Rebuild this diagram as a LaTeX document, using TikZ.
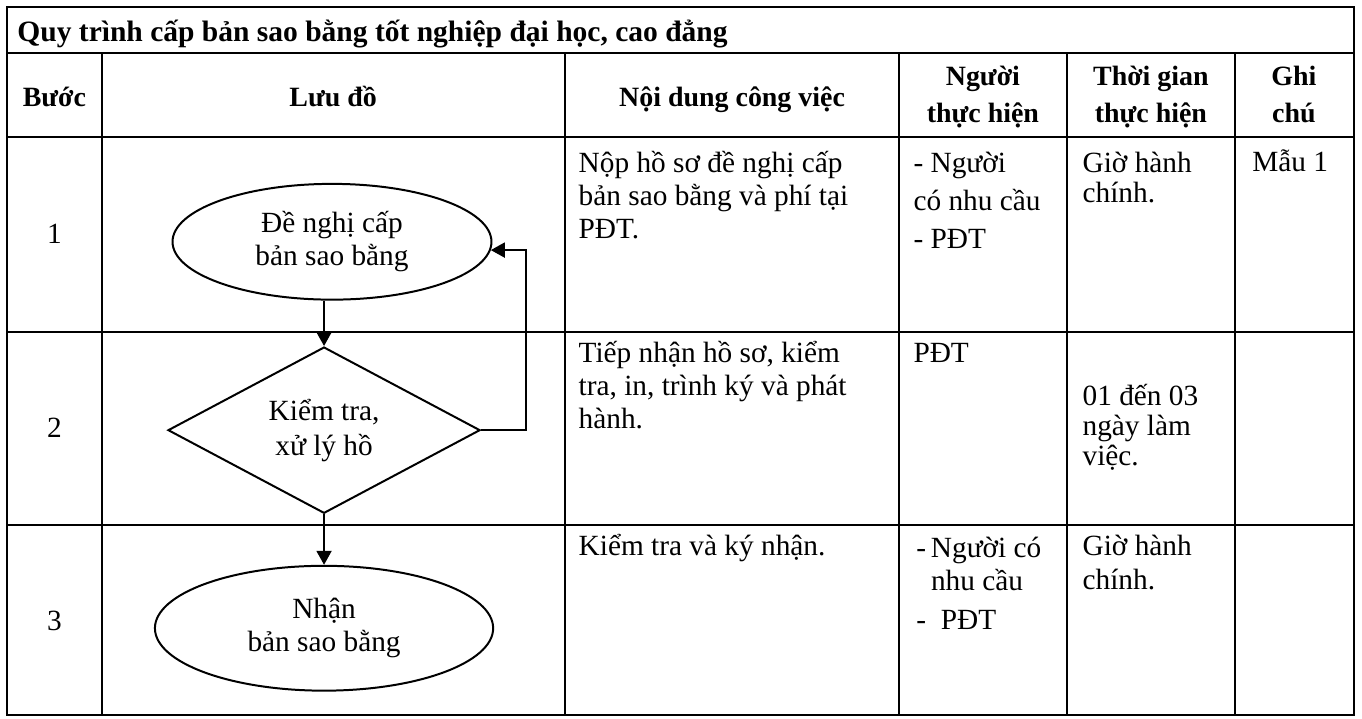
\documentclass[tikz,border=0pt]{standalone}
\usepackage{fontspec}
\setmainfont{Liberation Serif}
\usepackage{tikz}
\usetikzlibrary{arrows.meta}
\usetikzlibrary{shapes.geometric}

\begin{document}
\begin{tikzpicture}[
    font=\fontsize{14.7}{16.5}\selectfont,
    grid/.style={line width=1.25pt},
    flow/.style={draw,line width=1pt,inner sep=0pt,align=center},
    arr/.style={line width=1pt,-{Triangle[length=7pt,width=7.5pt]}},
    cell/.style={anchor=base west,inner sep=0pt,align=left},
    head/.style={anchor=base,inner sep=0pt,align=center,
      font=\fontsize{14}{18.5}\selectfont\bfseries}]
  \useasboundingbox (0,0) rectangle (24,-12.652);
  \draw[grid] (.12,-.12) rectangle (23.86,-12.6);
  \draw[grid] (.12,-.93) -- (23.86,-.93);
  \draw[grid] (.12,-2.41) -- (23.86,-2.41);
  \draw[grid] (.12,-5.85) -- (23.86,-5.85);
  \draw[grid] (.12,-9.25) -- (23.86,-9.25);
  \foreach \x in {1.8,9.96,15.84,18.8,21.76}
    \draw[grid] (\x,-.93) -- (\x,-12.6);
  \node (ti) [anchor=base west,inner sep=0pt,font=\fontsize{14.8}{16.5}\selectfont\bfseries]
    at (.3,-.74) {Quy trình cấp bản sao bằng tốt nghiệp đại học, cao đẳng};
  \node (hb) [head] at (.96,-1.868) {Bước};
  \node (hl) [head] at (5.87,-1.868) {Lưu đồ};
  \node (hn) [head] at (12.9,-1.868) {Nội dung công việc};
  \node (hp) [head] at (17.32,-2.15) {Người\\thực hiện};
  \node (ht) [head] at (20.28,-2.15) {Thời gian\\thực hiện};
  \node (hg) [head] at (22.8,-2.15) {Ghi\\chú};
  \node (s1) at (.96,-4.12) {1};
  \node (s2) at (.96,-7.54) {2};
  \node (s3) at (.96,-10.94) {3};
  \node (dn) [flow,ellipse,minimum width=5.62cm,minimum height=2.04cm]
    at (5.85,-4.26) {Đề nghị cấp\\bản sao bằng};
  \node (kt) [flow,diamond,aspect=1.88,minimum width=5.5cm,minimum height=2.93cm,
    font=\fontsize{14.7}{17.5}\selectfont] at (5.71,-7.58) {Kiểm tra,\\xử lý hồ};
  \node (nb) [flow,ellipse,minimum width=5.96cm,minimum height=2.2cm]
    at (5.71,-11.07) {Nhận\\bản sao bằng};
  \draw[arr] (dn.south -| kt.north) -- (kt.north);
  \draw[arr] (kt.east) -- ++(.79,0) |- (dn.-3);
  \draw[arr] (kt.south) -- (nb.north);
  \node (n1) [cell] at (10.19,-4.194) {Nộp hồ sơ đề nghị cấp\\bản sao bằng và phí tại\\PĐT.};
  \node (p1) [cell,font=\fontsize{14.7}{19}\selectfont] at (16.09,-4.37) {- Người\\có nhu cầu\\- PĐT};
  \node (t1) [cell,font=\fontsize{14.7}{15.5}\selectfont] at (19.07,-3.577) {Giờ hành\\chính.};
  \node (g1) [cell] at (22.06,-3.03) {Mẫu 1};
  \node (n2) [cell] at (10.19,-7.542) {Tiếp nhận hồ sơ, kiểm\\tra, in, trình ký và phát\\hành.};
  \node (p2) [cell] at (16.09,-6.38) {PĐT};
  \node (t2) [cell,font=\fontsize{14.7}{15}\selectfont] at (19.07,-8.194) {01 đến 03\\ngày làm\\việc.};
  \node (n3) [cell] at (10.19,-9.78) {Kiểm tra và ký nhận.};
  \node (p3) [cell] at (16.14,-11.1) {-\,Người có\\\hphantom{-\,}nhu cầu\\[3.5pt]-\ \ PĐT};
  \node (t3) [cell,font=\fontsize{14.7}{17.5}\selectfont] at (19.07,-10.396) {Giờ hành\\chính.};
\end{tikzpicture}
\end{document}
